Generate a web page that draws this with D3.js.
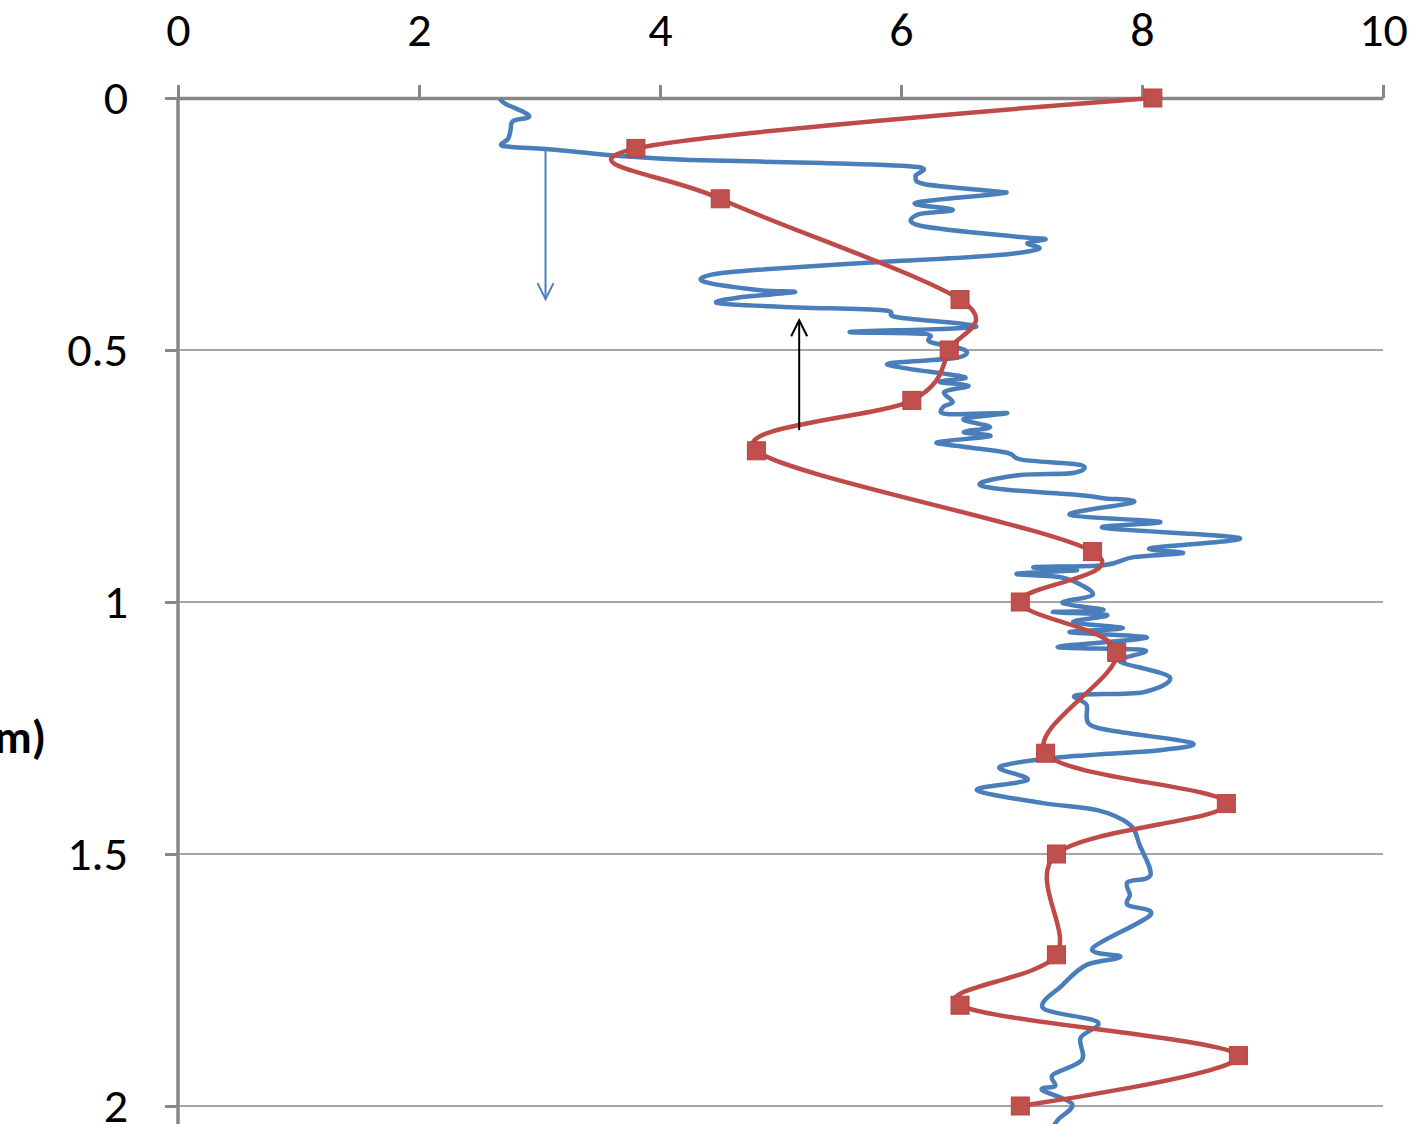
<!DOCTYPE html>
<html>
<head>
<meta charset="utf-8">
<script src="https://cdn.jsdelivr.net/npm/d3@7"></script>
<style>
  body { margin: 0; background: #fff; }
  svg { display: block; }
  .tick text { font-family: Carlito, Calibri, Lato, sans-serif; font-size: 48px; fill: #000; }
</style>
</head>
<body>
<div id="chart"></div>
<script>
// red series: sampled values at fixed depths
var redDepth = [0, 0.1, 0.2, 0.4, 0.5, 0.6, 0.7, 0.9, 1.0, 1.1, 1.3, 1.4, 1.5, 1.7, 1.8, 1.9, 2.0];
var redValue = [8.09, 3.80, 4.50, 6.49, 6.40, 6.09, 4.80, 7.59, 6.99, 7.79, 7.20, 8.70, 7.29, 7.29, 6.49, 8.80, 6.99];

// blue series: continuous profile
var blueDepth = [0.002, 0.012, 0.028, 0.038, 0.046, 0.063, 0.081, 0.093, 0.097, 0.103,
  0.115, 0.123, 0.129, 0.137, 0.155, 0.171, 0.185, 0.190, 0.208, 0.222,
  0.232, 0.254, 0.276, 0.280, 0.288, 0.300, 0.313, 0.327, 0.341, 0.351,
  0.365, 0.381, 0.385, 0.395, 0.407, 0.415, 0.421, 0.435, 0.454, 0.464,
  0.468, 0.484, 0.500, 0.516, 0.526, 0.536, 0.554, 0.563, 0.571, 0.583,
  0.603, 0.613, 0.627, 0.625, 0.637, 0.653, 0.663, 0.671, 0.683, 0.692,
  0.704, 0.718, 0.728, 0.744, 0.748, 0.764, 0.776, 0.788, 0.794, 0.802,
  0.827, 0.841, 0.853, 0.873, 0.893, 0.903, 0.911, 0.927, 0.931, 0.937,
  0.944, 0.950, 0.962, 0.986, 1.002, 1.016, 1.020, 1.026, 1.040, 1.052,
  1.060, 1.071, 1.089, 1.095, 1.111, 1.121, 1.149, 1.179, 1.185, 1.204,
  1.244, 1.260, 1.280, 1.294, 1.308, 1.327, 1.353, 1.373, 1.399, 1.413,
  1.442, 1.482, 1.542, 1.556, 1.581, 1.601, 1.621, 1.687, 1.704, 1.720,
  1.760, 1.806, 1.833, 1.865, 1.909, 1.938, 1.960, 1.968, 1.996, 2.028, 2.048];
var blueValue = [2.67, 2.72, 2.87, 2.91, 2.78, 2.76, 2.74, 2.68, 2.77, 3.15,
  3.67, 4.25, 5.35, 6.14, 6.12, 6.20, 6.78, 6.81, 6.12, 6.43,
  6.13, 6.17, 6.99, 7.20, 7.05, 7.14, 6.74, 5.72, 4.81, 4.42,
  4.37, 4.81, 5.12, 4.68, 4.48, 5.08, 5.85, 5.97, 6.62, 5.58,
  6.20, 6.24, 6.53, 6.45, 5.91, 6.03, 6.53, 6.32, 6.56, 6.36,
  6.43, 6.35, 6.38, 6.88, 6.52, 6.74, 6.52, 6.74, 6.30, 6.52,
  6.88, 7.01, 7.49, 7.43, 6.99, 6.66, 6.82, 7.49, 7.68, 7.93,
  7.40, 8.15, 7.68, 8.81, 8.07, 8.34, 7.93, 7.68, 7.10, 7.46,
  6.96, 7.30, 7.46, 7.59, 7.34, 7.68, 7.26, 7.71, 7.43, 7.84,
  7.40, 8.04, 7.30, 8.01, 7.86, 7.84, 8.23, 8.01, 7.46, 7.54,
  7.57, 7.88, 8.42, 8.15, 7.32, 6.82, 7.05, 6.63, 7.18, 7.63,
  7.90, 7.98, 8.07, 7.88, 7.90, 7.88, 8.07, 7.59, 7.82, 7.54,
  7.34, 7.18, 7.63, 7.49, 7.50, 7.26, 7.28, 7.17, 7.42, 7.30, 7.25];

var xTicks = [0, 2, 4, 6, 8, 10];
var yTicks = [0, 0.5, 1, 1.5, 2];

var svgWidth = 1417, svgHeight = 1124;
var margin = {top: 98, left: 178};
var plotWidth = 1205;

var svg = d3.select("#chart").append("svg")
  .attr("width", svgWidth)
  .attr("height", svgHeight);

var x = d3.scaleLinear().domain([0, 10]).range([margin.left, margin.left + plotWidth]);
var y = d3.scaleLinear().domain([0, 2]).range([margin.top, margin.top + 1008]);

var axisColor = "#878787";

// GRIDLINES
svg.append("g").selectAll("line")
  .data(yTicks.slice(1))
  .enter().append("line")
    .attr("x1", x(0)).attr("x2", x(10))
    .attr("y1", function(d) { return y(d); })
    .attr("y2", function(d) { return y(d); })
    .attr("stroke", axisColor)
    .attr("stroke-width", 1.5);

// TOP X AXIS
var xAxis = svg.append("g")
  .attr("transform", "translate(0," + y(0) + ")")
  .call(d3.axisTop(x).tickValues(xTicks).tickSize(13).tickSizeOuter(0).tickPadding(39));

// LEFT Y AXIS (runs past the bottom edge)
var yAxis = svg.append("g")
  .attr("transform", "translate(" + x(0) + ",0)")
  .call(d3.axisLeft(y).tickValues(yTicks).tickSize(13).tickSizeOuter(0).tickPadding(37)
    .tickFormat(function(d) { return String(d); }));
yAxis.select(".domain").attr("d", "M0," + y(0) + "V" + (svgHeight + 20));

[xAxis, yAxis].forEach(function(a) {
  a.select(".domain").attr("stroke", axisColor).attr("stroke-width", 3.5);
  a.selectAll(".tick line").attr("stroke", axisColor).attr("stroke-width", 3);
  a.selectAll(".tick text").attr("fill", "#000");
});

// AXIS TITLE (clipped by the left edge)
svg.append("text")
  .attr("x", 46)
  .attr("y", 753)
  .attr("text-anchor", "end")
  .attr("font-family", "Carlito, Calibri, Lato, sans-serif")
  .attr("font-weight", "bold")
  .attr("font-size", "46px")
  .text("Depth (m)");

var curve = d3.curveCardinal.tension(0);

// BLUE LINE
var blueData = blueDepth.map(function(d, i) { return {d: d, v: blueValue[i]}; });
svg.append("path")
  .datum(blueData)
  .attr("fill", "none")
  .attr("stroke", "#4a7ebb")
  .attr("stroke-width", 4.5)
  .attr("stroke-linejoin", "round")
  .attr("d", d3.line().curve(curve)
    .x(function(d) { return x(d.v); })
    .y(function(d) { return y(d.d); }));

// RED LINE + MARKERS
var redData = redDepth.map(function(d, i) { return {d: d, v: redValue[i]}; });
svg.append("path")
  .datum(redData)
  .attr("fill", "none")
  .attr("stroke", "#be4b48")
  .attr("stroke-width", 4.5)
  .attr("d", d3.line().curve(curve)
    .x(function(d) { return x(d.v); })
    .y(function(d) { return y(d.d); }));

svg.append("g").selectAll("rect")
  .data(redData)
  .enter().append("rect")
    .attr("x", function(d) { return x(d.v) - 9; })
    .attr("y", function(d) { return y(d.d) - 9; })
    .attr("width", 18)
    .attr("height", 18)
    .attr("fill", "#c0504d")
    .attr("stroke", "#b9423f")
    .attr("stroke-width", 1);

// ARROWS
function arrow(xv, d0, d1, color) {
  var g = svg.append("g").attr("stroke", color).attr("stroke-width", 2).attr("fill", "none");
  var x0 = x(xv), y0 = y(d0), y1 = y(d1);
  var dir = y1 > y0 ? 1 : -1;
  g.append("line").attr("x1", x0).attr("x2", x0).attr("y1", y0).attr("y2", y1);
  g.append("path").attr("d", "M" + (x0 - 8) + "," + (y1 - dir * 16) + "L" + x0 + "," + y1 + "L" + (x0 + 8) + "," + (y1 - dir * 16));
}
arrow(3.05, 0.103, 0.399, "#4a7ebb");
arrow(5.155, 0.659, 0.441, "#000");
</script>
</body>
</html>
